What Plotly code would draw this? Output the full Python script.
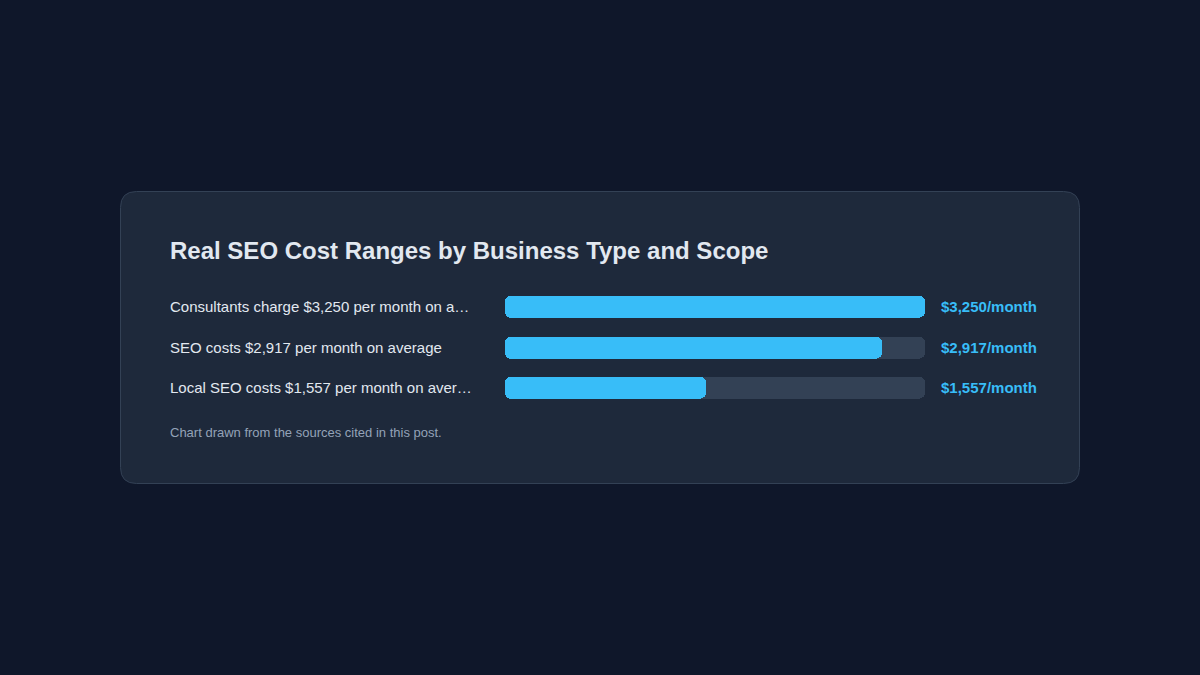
import plotly.graph_objects as go

categories = [
    "Consultants charge $3,250 per month on a…",
    "SEO costs $2,917 per month on average",
    "Local SEO costs $1,557 per month on aver…",
]
values = [3250, 2917, 1557]
value_labels = ["$3,250/month", "$2,917/month", "$1,557/month"]
title = "Real SEO Cost Ranges by Business Type and Scope"
footnote = "Chart drawn from the sources cited in this post."

W, H = 1200, 675
FONT = "Liberation Sans, Arial, Helvetica, sans-serif"

def px_x(p):
    return p / W

def px_y(p):
    return 1 - p / H

def rounded_rect(x0, y0, x1, y1, r):
    rx, ry = r / W, r / H
    X0, X1 = px_x(x0), px_x(x1)
    Y0, Y1 = px_y(y0), px_y(y1)
    return (
        f"M {X0+rx},{Y0} L {X1-rx},{Y0} Q {X1},{Y0} {X1},{Y0-ry} "
        f"L {X1},{Y1+ry} Q {X1},{Y1} {X1-rx},{Y1} "
        f"L {X0+rx},{Y1} Q {X0},{Y1} {X0},{Y1+ry} "
        f"L {X0},{Y0-ry} Q {X0},{Y0} {X0+rx},{Y0} Z"
    )

vmax = max(values)
track = [vmax] * len(values)

fig = go.Figure()

def add_rounded_bars(vals, color):
    # two overlapping halves: one grows right from the middle (rounded right
    # end), one grows left from the middle (rounded left end)
    mk = dict(color=color, cornerradius=6, line=dict(width=0))
    fig.add_trace(go.Bar(
        y=categories, x=[v * 0.6 for v in vals], base=[v * 0.4 for v in vals],
        orientation="h", marker=mk, width=0.54,
        hoverinfo="skip", showlegend=False,
    ))
    fig.add_trace(go.Bar(
        y=categories, x=[-v * 0.6 for v in vals], base=[v * 0.6 for v in vals],
        orientation="h", marker=mk, width=0.54,
        hoverinfo="skip", showlegend=False,
    ))

add_rounded_bars(track, "#334155")
add_rounded_bars(values, "#38bdf8")

row_top, row_bot = 307 - 20.25, 388 + 20.25
pad = vmax / 420.0

fig.update_layout(
    width=W, height=H,
    margin=dict(l=0, r=0, t=0, b=0),
    paper_bgcolor="#0f172a",
    plot_bgcolor="rgba(0,0,0,0)",
    barmode="overlay",
    bargap=0,
    xaxis=dict(domain=[px_x(504), px_x(926)], range=[-pad, vmax + pad],
               visible=False, fixedrange=True),
    yaxis=dict(domain=[px_y(row_bot), px_y(row_top)], autorange="reversed",
               visible=False, fixedrange=True, type="category"),
    shapes=[dict(
        type="path", xref="paper", yref="paper", layer="below",
        path=rounded_rect(120.5, 191.5, 1079.5, 483.5, 16),
        fillcolor="#1e293b", line=dict(color="#334155", width=1),
    )],
    font=dict(family=FONT),
)

annotations = [
    dict(text=f"<b>{title}</b>", xref="paper", yref="paper",
         x=px_x(168), y=px_y(250), xanchor="left", yanchor="middle",
         showarrow=False, font=dict(size=24, color="#e2e8f0", family=FONT)),
    dict(text=footnote, xref="paper", yref="paper",
         x=px_x(168), y=px_y(433), xanchor="left", yanchor="middle",
         showarrow=False, font=dict(size=13, color="#94a3b8", family=FONT)),
]
for cat, lab in zip(categories, value_labels):
    annotations.append(dict(
        text=cat, xref="paper", yref="y", x=px_x(168), y=cat,
        xanchor="left", yanchor="middle", showarrow=False,
        font=dict(size=15, color="#e2e8f0", family=FONT)))
    annotations.append(dict(
        text=f"<b>{lab}</b>", xref="paper", yref="y", x=px_x(939), y=cat,
        xanchor="left", yanchor="middle", showarrow=False,
        font=dict(size=15, color="#38bdf8", family=FONT)))
fig.update_layout(annotations=annotations)

fig.write_html(
    "out.html",
    config=dict(displayModeBar=False),
    post_script="document.body.style.margin='0';document.body.style.overflow='hidden';document.body.style.background='#0f172a';",
)
